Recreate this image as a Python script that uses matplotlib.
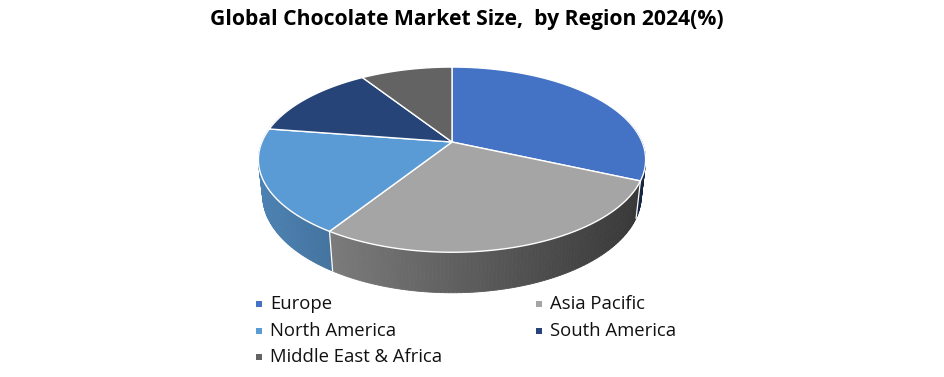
import numpy as np
import matplotlib
matplotlib.use('Agg')
import matplotlib.pyplot as plt
from matplotlib.patches import Polygon
from matplotlib.colors import to_rgb

regions = ['Europe', 'Asia Pacific', 'North America', 'South America', 'Middle East & Africa']
shares = [31.6, 27.5, 18.3, 13.4, 9.2]
colors = ['#4472C4', '#A5A5A5', '#5B9BD5', '#264478', '#636363']
title = 'Global Chocolate Market Size,  by Region 2024(%)'

# perspective setup (pixel space)
cx, cy = 452, 142
alpha = np.radians(28)
ca, sa = np.cos(alpha), np.sin(alpha)
D = 4.63
f = 880
H = 0.215


def proj(phi, Y):
    # phi measured clockwise from 12 o'clock, seen from above
    X = np.sin(phi)
    Z = -np.cos(phi)
    yc = Y * ca - Z * sa
    depth = D - Z * ca - Y * sa
    return cx + f * X / depth, cy - f * yc / depth


def side_shade(x):
    return np.clip(0.74 - 0.00132 * (x - 335), 0.3, 0.9)


fig = plt.figure(figsize=(9.45, 3.77), dpi=100)
ax = fig.add_axes([0, 0, 1, 1])
ax.set_xlim(0, 945)
ax.set_ylim(377, 0)
ax.axis('off')

bounds = np.concatenate([[0], np.cumsum(shares)]) / sum(shares) * 2 * np.pi

# sides, drawn far to near
quads = []
for i in range(len(shares)):
    a0, a1 = bounds[i], bounds[i + 1]
    n = max(int(np.degrees(a1 - a0)), 2)
    t = np.linspace(a0, a1, n + 1)
    for k in range(n):
        p0, p1 = t[k], t[k + 1]
        mid = (p0 + p1) / 2
        if -np.cos(mid) < -0.3:
            continue
        pts = [proj(p0, 0), proj(p1, 0), proj(p1, -H), proj(p0, -H)]
        quads.append((-np.cos(mid), pts, i))
quads.sort(key=lambda q: q[0])
for z, pts, i in quads:
    xm = np.mean([p[0] for p in pts])
    c = np.array(to_rgb(colors[i])) * side_shade(xm)
    ax.add_patch(Polygon(pts, closed=True, facecolor=c, edgecolor=c, lw=0.6))

# vertical white edges on the visible side
for b in bounds:
    if -np.cos(b) > 0.05:
        x0, y0 = proj(b, 0)
        x1, y1 = proj(b, -H)
        ax.plot([x0, x1], [y0, y1], color='white', lw=0.9)

# top faces
for i in range(len(shares)):
    t = np.linspace(bounds[i], bounds[i + 1], 120)
    pts = [(cx, cy)] + [proj(p, 0) for p in t]
    ax.add_patch(Polygon(pts, closed=True, facecolor=colors[i],
                         edgecolor='white', lw=1.0, joinstyle='round'))

ax.text(467, 20, title, ha='center', va='center', fontsize=15.2,
        fontweight='bold', family='Open Sans', color='black')

# legend
for i, name in enumerate(regions):
    col, row = i % 2, i // 2
    x = 259 + col * 279.5
    y = 304 + row * 26.5
    ax.scatter([x], [y], marker='s', s=24, color=colors[i], lw=0)
    ax.text(x + 11, y, name, ha='left', va='center', fontsize=13.3,
            family='Open Sans', color='#111111')

fig.savefig('out.png', dpi=100)
